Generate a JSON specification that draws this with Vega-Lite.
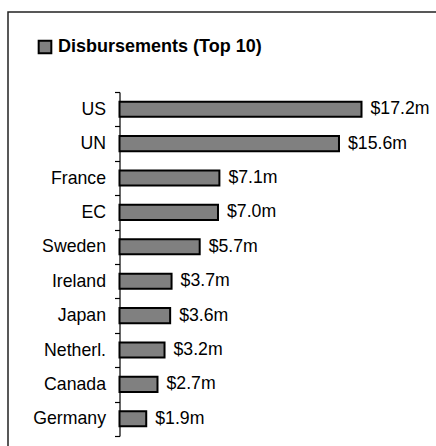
{
  "$schema": "https://vega.github.io/schema/vega-lite/v6.json",
  "width": 440,
  "height": 450,
  "autosize": {"type": "none"},
  "padding": {"left": 8, "top": 12, "right": -12, "bottom": -16},
  "background": "white",
  "config": {
    "view": {"stroke": "#222222", "strokeWidth": 1.5},
    "font": "Liberation Sans"
  },
  "data": {
    "values": [
      {"country": "US", "value": 17.2, "label": "$17.2m"},
      {"country": "UN", "value": 15.6, "label": "$15.6m"},
      {"country": "France", "value": 7.1, "label": "$7.1m"},
      {"country": "EC", "value": 7.0, "label": "$7.0m"},
      {"country": "Sweden", "value": 5.7, "label": "$5.7m"},
      {"country": "Ireland", "value": 3.7, "label": "$3.7m"},
      {"country": "Japan", "value": 3.6, "label": "$3.6m"},
      {"country": "Netherl.", "value": 3.2, "label": "$3.2m"},
      {"country": "Canada", "value": 2.7, "label": "$2.7m"},
      {"country": "Germany", "value": 1.9, "label": "$1.9m"}
    ]
  },
  "encoding": {
    "y": {
      "field": "country",
      "type": "nominal",
      "sort": null,
      "scale": {"range": [80, 424], "paddingInner": 0, "paddingOuter": 0},
      "axis": {
        "title": null,
        "offset": -111.5,
        "tickBand": "extent",
        "labelFontSize": 17.7,
        "labelColor": "black",
        "labelFont": "Liberation Sans",
        "labelPadding": 9,
        "domainColor": "black",
        "domainWidth": 1.2,
        "tickColor": "black",
        "tickWidth": 1.2,
        "tickSize": 5,
        "grid": false
      }
    },
    "x": {
      "field": "value",
      "type": "quantitative",
      "scale": {"domain": [0, 20], "range": [111.5, 392.9], "nice": false, "zero": true},
      "axis": null
    }
  },
  "layer": [
    {
      "mark": {"type": "bar", "stroke": "black", "strokeWidth": 2, "height": {"band": 0.44}},
      "encoding": {
        "color": {
          "datum": "Disbursements (Top 10)",
          "type": "nominal",
          "scale": {"range": ["#808080"]},
          "legend": {
            "orient": "none",
            "legendX": 28,
            "legendY": 26,
            "title": null,
            "padding": 0,
            "labelFontSize": 18,
            "labelFontWeight": "bold",
            "labelFont": "Liberation Sans",
            "labelColor": "black",
            "labelOffset": 4,
            "labelLimit": 0,
            "symbolType": "square",
            "symbolSize": 160,
            "symbolStrokeColor": "black",
            "symbolStrokeWidth": 2
          }
        }
      }
    },
    {
      "mark": {"type": "text", "align": "left", "dx": 9, "fontSize": 17.7, "color": "black", "font": "Liberation Sans"},
      "encoding": {"text": {"field": "label"}}
    }
  ]
}
